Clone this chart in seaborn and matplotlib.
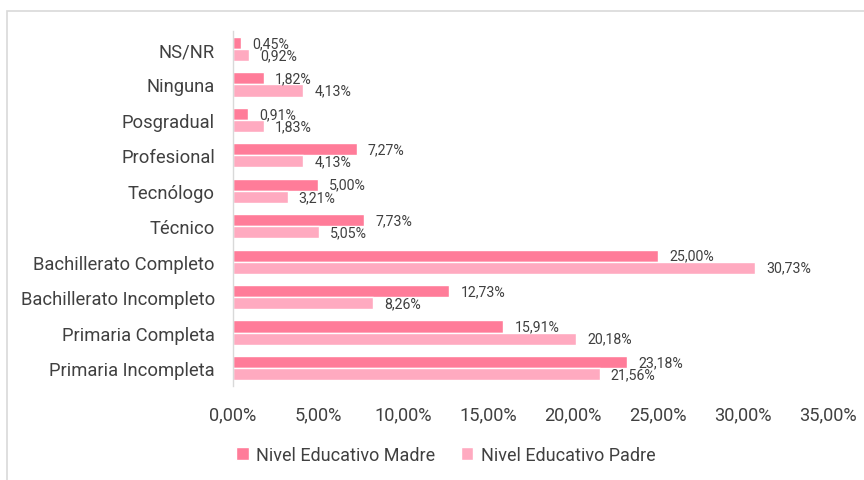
import matplotlib
matplotlib.use("Agg")
import matplotlib.pyplot as plt
import seaborn as sns
import pandas as pd
from matplotlib.patches import Rectangle
from matplotlib.ticker import FuncFormatter

categories = ["NS/NR", "Ninguna", "Posgradual", "Profesional", "Tecnólogo", "Técnico",
              "Bachillerato Completo", "Bachillerato Incompleto", "Primaria Completa",
              "Primaria Incompleta"]
madre = [0.45, 1.82, 0.91, 7.27, 5.00, 7.73, 25.00, 12.73, 15.91, 23.18]
padre = [0.92, 4.13, 1.83, 4.13, 3.21, 5.05, 30.73, 8.26, 20.18, 21.56]
series_names = ["Nivel Educativo Madre", "Nivel Educativo Padre"]
xticks = [0, 5, 10, 15, 20, 25, 30, 35]

sns.set_theme(style="white")
plt.rcParams['font.family'] = ['Roboto', 'DejaVu Sans']
text_color = "#404040"

df = pd.DataFrame({
    "cat": categories * 2,
    "val": madre + padre,
    "serie": [series_names[0]] * len(categories) + [series_names[1]] * len(categories),
})

fig = plt.figure(figsize=(8.64, 4.81), dpi=100)
ax = fig.add_axes([233/864, 1-386.7/481, (828-233)/864, (386.7-32.3)/481])

sns.barplot(data=df, y="cat", x="val", hue="serie", order=categories,
            hue_order=series_names, palette=["#FF7C99", "#FFAAC0"],
            orient="h", width=0.68, ax=ax, legend=True, saturation=1)

for cont in ax.containers:
    labels = [f"{v:.2f}".replace(".", ",") + "%" for v in cont.datavalues]
    ax.bar_label(cont, labels=labels, padding=8, fontsize=10.2, color=text_color)

ax.set_xlim(0, 35)
ax.set_xticks(xticks)
ax.xaxis.set_major_formatter(FuncFormatter(lambda v, p: f"{v:.2f}".replace(".", ",") + "%"))
ax.set_xlabel("")
ax.set_ylabel("")
ax.tick_params(axis="y", length=0, pad=13, labelsize=13.2, labelcolor=text_color)
ax.tick_params(axis="x", length=0, pad=14, labelsize=13.1, labelcolor=text_color)
for s in ["top", "right", "bottom"]:
    ax.spines[s].set_visible(False)
ax.spines["left"].set_color("#d9d9d9")
ax.spines["left"].set_linewidth(1)
ax.grid(False)

handles, labs = ax.get_legend_handles_labels()
ax.legend(handles, labs, loc="center", bbox_to_anchor=(0.516, 0.052),
          bbox_transform=fig.transFigure, ncol=2, frameon=False,
          handlelength=0.7, handleheight=0.7, handletextpad=0.4,
          columnspacing=1.4, fontsize=13, labelcolor=text_color)

fig.patches.append(Rectangle((7/864, -0.1), 1.2, 1-12/481+0.1, transform=fig.transFigure,
                             fill=False, edgecolor="#d9d9d9", linewidth=1.2))

fig.savefig("out.png", dpi=100)
